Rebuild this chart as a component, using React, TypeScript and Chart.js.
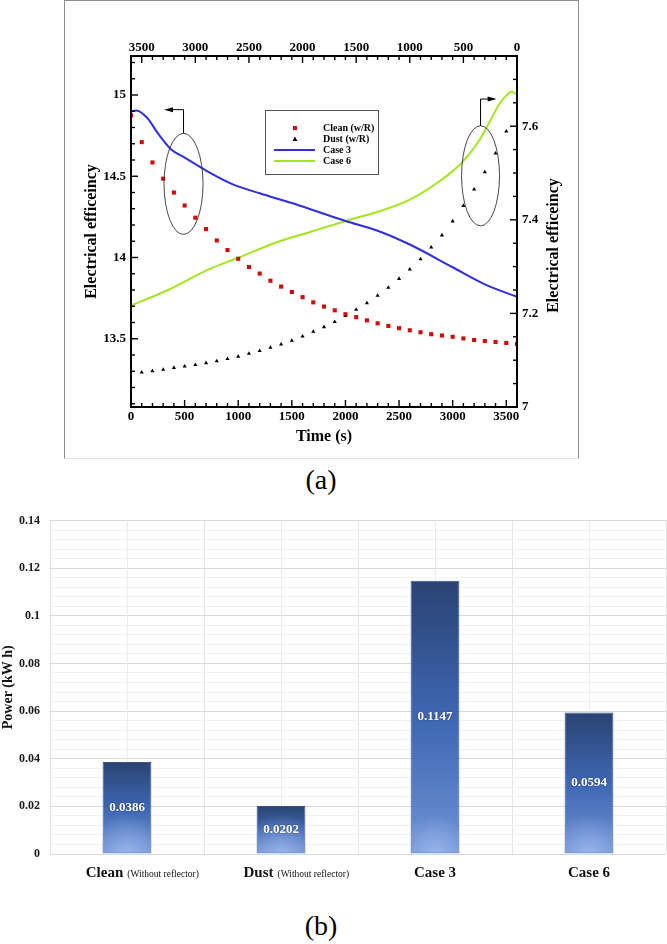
import { useEffect, useRef } from "react";
import Chart from "chart.js/auto";

const SERIF = "'Liberation Serif', 'Times New Roman', serif";

// (a) electrical efficiency vs time
const cleanTime = [0, 100, 200, 300, 400, 500, 600, 700, 800, 900, 1000, 1100, 1200, 1300, 1400, 1500, 1600, 1700, 1800, 1900, 2000, 2100, 2200, 2300, 2400, 2500, 2600, 2700, 2800, 2900, 3000, 3100, 3200, 3300, 3400, 3500, 3600];
const cleanEff = [14.875, 14.71, 14.585, 14.485, 14.4, 14.32, 14.245, 14.175, 14.105, 14.046, 13.992, 13.942, 13.901, 13.857, 13.821, 13.788, 13.756, 13.724, 13.698, 13.675, 13.651, 13.633, 13.613, 13.595, 13.579, 13.565, 13.552, 13.54, 13.528, 13.52, 13.512, 13.502, 13.492, 13.486, 13.48, 13.474, 13.468];

// dust and case 6 are read against the top (reversed) time axis and the right axis
const dustTime = [3500, 3400, 3300, 3200, 3100, 3000, 2900, 2800, 2700, 2600, 2500, 2400, 2300, 2200, 2100, 2000, 1900, 1800, 1700, 1600, 1500, 1400, 1300, 1200, 1100, 1000, 900, 800, 700, 600, 500, 400, 300, 200, 100];
const dustEff = [7.074, 7.077, 7.08, 7.084, 7.087, 7.09, 7.094, 7.098, 7.103, 7.108, 7.114, 7.12, 7.127, 7.134, 7.142, 7.151, 7.161, 7.171, 7.182, 7.195, 7.208, 7.222, 7.238, 7.255, 7.274, 7.294, 7.316, 7.341, 7.367, 7.397, 7.43, 7.465, 7.502, 7.542, 7.589];

const case3Time = [0, 50, 150, 250, 375, 500, 700, 950, 1200, 1500, 1750, 2000, 2300, 2600, 3000, 3300, 3600];
const case3Eff = [14.9, 14.905, 14.86, 14.765, 14.665, 14.615, 14.535, 14.45, 14.395, 14.335, 14.28, 14.225, 14.165, 14.08, 13.94, 13.835, 13.758];

const case6Time = [3600, 3265, 2865, 2600, 2265, 1930, 1560, 1260, 1000, 720, 515, 345, 270, 160, 80, 50, 0];
const case6Eff = [7.217, 7.249, 7.295, 7.319, 7.35, 7.374, 7.4, 7.42, 7.443, 7.483, 7.522, 7.572, 7.603, 7.649, 7.67, 7.674, 7.667];

const timeTicks = [0, 500, 1000, 1500, 2000, 2500, 3000, 3500];
const leftTicks = [13.5, 14, 14.5, 15];
const rightTicks = [7, 7.2, 7.4, 7.6];

// (b) power
const powerCats = ["Clean", "Dust", "Case 3", "Case 6"];
const powerNotes = ["(Without reflector)", "(Without reflector)", "", ""];
const powerValues = [0.0386, 0.0202, 0.1147, 0.0594];
const powerTicks = [0, 0.02, 0.04, 0.06, 0.08, 0.1, 0.12, 0.14];

const pts = (xs: number[], ys: number[]) => xs.map((x, i) => ({ x, y: ys[i] }));
const fmt = (v: number) => String(Number(v.toFixed(3)));

const innerTicks = [
  { id: "x", major: 500, minor: 100, side: "bottom" },
  { id: "x2", major: 500, minor: 100, side: "top" },
  { id: "y", major: 0.5, minor: 0.1, side: "left" },
  { id: "y2", major: 0.2, minor: 0.05, side: "right" },
];

const topDecor = {
  id: "topDecor",
  afterDraw(chart: any) {
    const { ctx, chartArea: a, scales } = chart;
    const w = a.right - a.left;
    const h = a.bottom - a.top;
    ctx.save();

    // inward ticks
    ctx.strokeStyle = "#000";
    ctx.lineWidth = 1.4;
    for (const s of innerTicks) {
      const sc = scales[s.id];
      const lo = Math.min(sc.min, sc.max);
      const hi = Math.max(sc.min, sc.max);
      const first = Math.ceil(lo / s.minor - 1e-6);
      const last = Math.floor(hi / s.minor + 1e-6);
      for (let k = first; k <= last; k++) {
        const v = k * s.minor;
        const r = v / s.major;
        const major = Math.abs(r - Math.round(r)) < 1e-6;
        const len = major ? 7 : 4;
        const p = sc.getPixelForValue(v);
        ctx.beginPath();
        if (s.side === "bottom") { ctx.moveTo(p, a.bottom); ctx.lineTo(p, a.bottom - len); }
        if (s.side === "top") { ctx.moveTo(p, a.top); ctx.lineTo(p, a.top + len); }
        if (s.side === "left") { ctx.moveTo(a.left, p); ctx.lineTo(a.left + len, p); }
        if (s.side === "right") { ctx.moveTo(a.right, p); ctx.lineTo(a.right - len, p); }
        ctx.stroke();
      }
    }

    // frame
    ctx.lineWidth = 2;
    ctx.strokeRect(a.left, a.top, w, h);

    // ellipses with arrows
    const sx = scales.x, sy = scales.y, sy2 = scales.y2;
    const drawEllipse = (t: number, v: number, rt: number, rv: number, ys: any) => {
      const cx = sx.getPixelForValue(t);
      const cy = ys.getPixelForValue(v);
      const rx = Math.abs(sx.getPixelForValue(t + rt) - cx);
      const ry = Math.abs(ys.getPixelForValue(v + rv) - cy);
      ctx.beginPath();
      ctx.ellipse(cx, cy, rx, ry, 0, 0, Math.PI * 2);
      ctx.strokeStyle = "#333";
      ctx.lineWidth = 0.9;
      ctx.stroke();
      return { cx, top: cy - ry };
    };
    const drawArrow = (x0: number, y0: number, yUp: number, xTip: number) => {
      ctx.strokeStyle = "#000";
      ctx.fillStyle = "#000";
      ctx.lineWidth = 1;
      const dir = Math.sign(xTip - x0);
      ctx.beginPath();
      ctx.moveTo(x0, y0);
      ctx.lineTo(x0, yUp);
      ctx.lineTo(xTip - dir * 7, yUp);
      ctx.stroke();
      ctx.beginPath();
      ctx.moveTo(xTip, yUp);
      ctx.lineTo(xTip - dir * 9, yUp - 2.5);
      ctx.lineTo(xTip - dir * 9, yUp + 2.5);
      ctx.closePath();
      ctx.fill();
    };
    const e1 = drawEllipse(490, 14.453, 182, 0.311, sy);
    drawArrow(e1.cx, e1.top, sy.getPixelForValue(14.91), sx.getPixelForValue(308));
    const e2 = drawEllipse(3260, 7.494, 177, 0.107, sy2);
    drawArrow(e2.cx, e2.top, sy2.getPixelForValue(7.658), sx.getPixelForValue(3410));

    // legend box
    const bx = a.left + 0.347 * w;
    const by = a.top + 0.154 * h;
    const bw = 0.294 * w;
    const bh = 0.182 * h;
    ctx.fillStyle = "#fff";
    ctx.fillRect(bx, by, bw, bh);
    ctx.strokeStyle = "#555";
    ctx.lineWidth = 1;
    ctx.strokeRect(Math.round(bx) + 0.5, Math.round(by) + 0.5, Math.round(bw), Math.round(bh));
    ctx.font = `bold 10px ${SERIF}`;
    ctx.textAlign = "left";
    ctx.textBaseline = "middle";
    chart.data.datasets.forEach((ds: any, i: number) => {
      const ry = by + 18 + i * 11;
      if (ds.showLine) {
        ctx.strokeStyle = ds.borderColor;
        ctx.lineWidth = 2;
        ctx.beginPath();
        ctx.moveTo(bx + 9, ry);
        ctx.lineTo(bx + 50, ry);
        ctx.stroke();
      } else if (ds.pointStyle === "rect") {
        ctx.fillStyle = ds.backgroundColor;
        ctx.fillRect(bx + 28, ry - 2, 4, 4);
      } else {
        ctx.fillStyle = ds.backgroundColor;
        ctx.beginPath();
        ctx.moveTo(bx + 30, ry - 2.5);
        ctx.lineTo(bx + 32.5, ry + 2);
        ctx.lineTo(bx + 27.5, ry + 2);
        ctx.closePath();
        ctx.fill();
      }
      ctx.fillStyle = "#000";
      ctx.fillText(ds.label, bx + 58, ry);
    });

    // axis titles
    ctx.fillStyle = "#000";
    ctx.font = `bold 16px ${SERIF}`;
    ctx.textAlign = "center";
    ctx.textBaseline = "middle";
    ctx.fillText("Time (s)", (a.left + a.right) / 2, a.bottom + 30);
    const title = "Electrical efficeincy";
    ctx.save();
    ctx.translate(a.left - 39, (a.top + a.bottom) / 2);
    ctx.rotate(-Math.PI / 2);
    ctx.fillText(title, 0, 0);
    ctx.restore();
    ctx.save();
    ctx.translate(a.right + 37, (a.top + a.bottom) / 2 + 14);
    ctx.rotate(-Math.PI / 2);
    ctx.fillText(title, 0, 0);
    ctx.restore();

    ctx.restore();
  },
};

const barDecor = {
  id: "barDecor",
  beforeDatasetsDraw(chart: any) {
    const { ctx, chartArea: a, scales } = chart;
    ctx.save();
    ctx.strokeStyle = "#ececec";
    ctx.lineWidth = 1;
    powerCats.forEach((_, i) => {
      const x = Math.round(scales.x.getPixelForValue(i)) + 0.5;
      ctx.beginPath();
      ctx.moveTo(x, a.top);
      ctx.lineTo(x, a.bottom);
      ctx.stroke();
    });
    ctx.restore();
  },
  afterDatasetsDraw(chart: any) {
    const { ctx } = chart;
    const meta = chart.getDatasetMeta(0);
    meta.data.forEach((el: any, i: number) => {
      const { x, y, base, width } = el.getProps(["x", "y", "base", "width"], true);
      ctx.save();
      ctx.beginPath();
      ctx.rect(x - width / 2 + 1, y + 1, width - 2, base - y - 2);
      ctx.clip();
      const g = ctx.createRadialGradient(x, base, 0, x, base, width * 0.8);
      g.addColorStop(0, "rgba(180,205,250,0.6)");
      g.addColorStop(1, "rgba(180,205,250,0)");
      ctx.fillStyle = g;
      ctx.fillRect(x - width / 2, y, width, base - y);
      ctx.restore();

      ctx.save();
      ctx.font = `bold 13px ${SERIF}`;
      ctx.textAlign = "center";
      ctx.textBaseline = "middle";
      ctx.shadowColor = "rgba(0,0,0,0.45)";
      ctx.shadowBlur = 2;
      ctx.fillStyle = "#fff";
      ctx.fillText(String(powerValues[i]), x, (y + base) / 2);
      ctx.restore();
    });
  },
  afterDraw(chart: any) {
    const { ctx, chartArea: a, scales } = chart;
    ctx.save();
    ctx.fillStyle = "#111";
    ctx.textBaseline = "alphabetic";
    powerCats.forEach((name, i) => {
      const note = powerNotes[i];
      ctx.font = `bold 15px ${SERIF}`;
      const w1 = ctx.measureText(name).width;
      ctx.font = `9.5px ${SERIF}`;
      const w2 = note ? ctx.measureText(" " + note).width + 3 : 0;
      const cx = scales.x.getPixelForValue(i) + (note ? 16 : 0);
      const x0 = cx - (w1 + w2) / 2;
      const yb = a.bottom + 22.5;
      ctx.textAlign = "left";
      ctx.font = `bold 15px ${SERIF}`;
      ctx.fillText(name, x0, yb);
      if (note) {
        ctx.font = `9.5px ${SERIF}`;
        ctx.fillText(note, x0 + w1 + 4, yb);
      }
    });
    ctx.font = `bold 14px ${SERIF}`;
    ctx.textAlign = "center";
    ctx.textBaseline = "middle";
    ctx.translate(a.left - 42, (a.top + a.bottom) / 2);
    ctx.rotate(-Math.PI / 2);
    ctx.fillText("Power (kW h)", 0, 0);
    ctx.restore();
  },
};

const tickFont = { family: SERIF, size: 13, weight: "bold" as const };
const noGrid = { display: false, drawTicks: false };

export default function App() {
  const topRef = useRef<HTMLCanvasElement | null>(null);
  const barRef = useRef<HTMLCanvasElement | null>(null);

  useEffect(() => {
    if (!topRef.current || !barRef.current) return;

    const top = new Chart(topRef.current, {
      type: "scatter",
      data: {
        datasets: [
          {
            label: "Clean (w/R)",
            data: pts(cleanTime, cleanEff),
            xAxisID: "x",
            yAxisID: "y",
            pointStyle: "rect",
            pointRadius: 2.9,
            backgroundColor: "#d10a0a",
            borderWidth: 0,
            showLine: false,
          },
          {
            label: "Dust (w/R)",
            data: pts(dustTime, dustEff),
            xAxisID: "x2",
            yAxisID: "y2",
            pointStyle: "triangle",
            pointRadius: 2.4,
            backgroundColor: "#000",
            borderWidth: 0,
            showLine: false,
          },
          {
            label: "Case 3",
            data: pts(case3Time, case3Eff),
            xAxisID: "x",
            yAxisID: "y",
            showLine: true,
            pointRadius: 0,
            borderColor: "#2f2fe0",
            borderWidth: 2,
            cubicInterpolationMode: "monotone",
          },
          {
            label: "Case 6",
            data: pts(case6Time, case6Eff),
            xAxisID: "x2",
            yAxisID: "y2",
            showLine: true,
            pointRadius: 0,
            borderColor: "#a3e61f",
            borderWidth: 2,
            cubicInterpolationMode: "monotone",
          },
        ],
      },
      options: {
        animation: false,
        responsive: true,
        maintainAspectRatio: false,
        layout: { padding: 0 },
        plugins: { legend: { display: false }, tooltip: { enabled: false } },
        scales: {
          x: {
            type: "linear",
            position: "bottom",
            min: 0,
            max: 3600,
            afterBuildTicks: (s: any) => { s.ticks = timeTicks.map((value) => ({ value })); },
            afterFit: (s: any) => { s.height = 51; },
            grid: noGrid,
            border: { display: false },
            ticks: { font: tickFont, color: "#000", padding: 2, maxRotation: 0, autoSkip: false, callback: (v: any) => String(v) },
          },
          x2: {
            type: "linear",
            position: "top",
            reverse: true,
            min: 0,
            max: 3600,
            afterBuildTicks: (s: any) => { s.ticks = timeTicks.map((value) => ({ value })); },
            afterFit: (s: any) => { s.height = 55; },
            grid: noGrid,
            border: { display: false },
            ticks: { font: tickFont, color: "#000", padding: 1, maxRotation: 0, autoSkip: false, callback: (v: any) => String(v) },
          },
          y: {
            type: "linear",
            position: "left",
            min: 13.08,
            max: 15.24,
            afterBuildTicks: (s: any) => { s.ticks = leftTicks.map((value) => ({ value })); },
            afterFit: (s: any) => { s.width = 66; },
            grid: noGrid,
            border: { display: false },
            ticks: { font: tickFont, color: "#000", padding: 5, autoSkip: false, callback: (v: any) => fmt(Number(v)) },
          },
          y2: {
            type: "linear",
            position: "right",
            min: 7,
            max: 7.75,
            afterBuildTicks: (s: any) => { s.ticks = rightTicks.map((value) => ({ value })); },
            afterFit: (s: any) => { s.width = 61; },
            grid: noGrid,
            border: { display: false },
            ticks: { font: tickFont, color: "#000", padding: 5, autoSkip: false, callback: (v: any) => fmt(Number(v)) },
          },
        },
      },
      plugins: [topDecor],
    } as any);

    const bar = new Chart(barRef.current, {
      type: "bar",
      data: {
        labels: powerCats,
        datasets: [
          {
            label: "Power",
            data: powerValues,
            categoryPercentage: 1,
            barPercentage: 0.317,
            borderColor: "#3a5488",
            borderWidth: 1,
            backgroundColor: (c: any) => {
              const ch = c.chart;
              if (!ch.chartArea || c.raw == null) return "#3f69b4";
              const yTop = ch.scales.y.getPixelForValue(c.raw);
              const yBase = ch.scales.y.getPixelForValue(0);
              const g = ch.ctx.createLinearGradient(0, yTop, 0, yBase);
              g.addColorStop(0, "#2a4372");
              g.addColorStop(0.5, "#3e67b2");
              g.addColorStop(1, "#6f92d4");
              return g;
            },
          },
        ],
      },
      options: {
        animation: false,
        responsive: true,
        maintainAspectRatio: false,
        layout: { padding: { top: 20.5, right: 1 } },
        plugins: { legend: { display: false }, tooltip: { enabled: false } },
        scales: {
          x: {
            type: "category",
            ticks: { display: false },
            afterFit: (s: any) => { s.height = 36; },
            grid: { offset: true, color: "#e4e4e4", drawTicks: false },
            border: { display: false },
          },
          y: {
            type: "linear",
            min: 0,
            max: 0.14,
            afterBuildTicks: (s: any) => {
              const list = [];
              for (let k = 0; k <= 35; k++) list.push({ value: Number((k * 0.004).toFixed(3)) });
              s.ticks = list;
            },
            afterFit: (s: any) => { s.width = 50; },
            grid: {
              drawTicks: false,
              color: (c: any) => (powerTicks.some((t) => Math.abs(t - c.tick?.value) < 1e-9) ? "#dadada" : "#f1f1f1"),
            },
            border: { display: false },
            ticks: {
              autoSkip: false,
              padding: 10,
              color: "#1a1a1a",
              font: { family: SERIF, size: 12, weight: "bold" },
              callback: (v: any) => {
                const n = Number(v);
                return powerTicks.some((t) => Math.abs(t - n) < 1e-9) ? fmt(n) : "";
              },
            },
          },
        },
      },
      plugins: [barDecor],
    } as any);

    return () => {
      top.destroy();
      bar.destroy();
    };
  }, []);

  const caption = {
    position: "absolute" as const,
    left: 0,
    width: 642,
    textAlign: "center" as const,
    fontFamily: SERIF,
    fontSize: 28,
    lineHeight: "28px",
    color: "#000",
  };

  return (
    <div style={{ position: "absolute", left: 0, top: 0, width: 667, height: 944, background: "#fff", overflow: "hidden" }}>
      <div
        style={{
          position: "absolute",
          left: 64,
          top: 0,
          width: 515,
          height: 459,
          boxSizing: "border-box",
          borderLeft: "1px solid #8f8f8f",
          borderRight: "1px solid #8f8f8f",
          borderTop: "1px solid #8f8f8f",
          borderBottom: "1px solid #e4e4e4",
        }}
      >
        <div style={{ position: "relative", width: 513, height: 457 }}>
          <canvas ref={topRef} />
        </div>
      </div>
      <div style={{ ...caption, top: 466 }}>(a)</div>
      <div style={{ position: "absolute", left: 0, top: 500, width: 667, height: 390 }}>
        <canvas ref={barRef} />
      </div>
      <div style={{ ...caption, top: 912 }}>(b)</div>
    </div>
  );
}
